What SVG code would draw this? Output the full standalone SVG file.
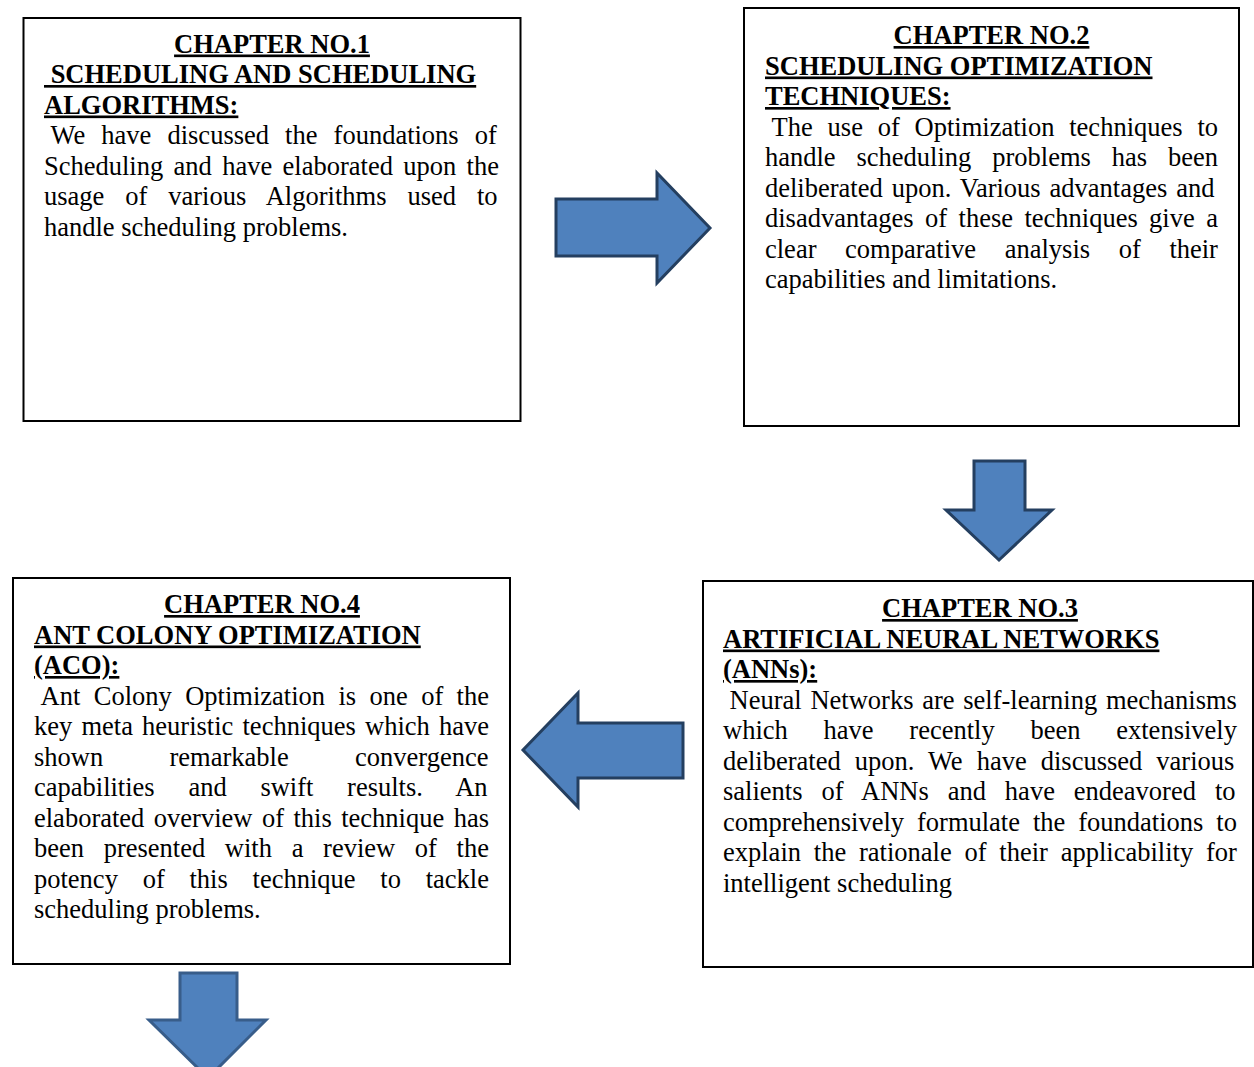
<svg xmlns="http://www.w3.org/2000/svg" width="1254" height="1067" viewBox="0 0 1254 1067">
<style>
.box{fill:#fff;stroke:#000;stroke-width:2}
text{font-family:"Liberation Serif","Times New Roman",serif;font-size:26.5px;fill:#000;white-space:pre}
.h{font-weight:bold;text-decoration:underline}
.c{text-anchor:middle}
.arr{fill:#4F81BD;stroke:#243F60;stroke-width:3;stroke-linejoin:miter}
.arr2{fill:#4F81BD;stroke:#385D8A;stroke-width:3}
</style>
<rect width="1254" height="1067" fill="#fff"/>
<g id="connectors">
<polygon class="arr" points="556,199 657,199 657,173 710,228 657,283 657,256 556,256"/>
<polygon class="arr" points="974,461 1025,461 1025,510 1052,510 999,560 946,510 974,510"/>
<polygon class="arr" points="683,723 578,723 578,693 523,750 578,807 578,778 683,778"/>
<polygon class="arr2" points="180,973 237,973 237,1020 266,1020 208,1078 149,1020 180,1020"/>
</g>
<g id="chapter1">
<rect class="box" x="23.5" y="18" width="497" height="403"/>
<text class="h c" x="272" y="52.5">CHAPTER NO.1</text>
<text class="h" x="44" y="83"> SCHEDULING AND SCHEDULING</text>
<text class="h" x="44" y="113.5">ALGORITHMS:</text>
<text x="50.6" y="144" style="word-spacing:9.46px">We have discussed the foundations of</text>
<text x="44" y="174.5" style="word-spacing:3.72px">Scheduling and have elaborated upon the</text>
<text x="44" y="205" style="word-spacing:14.3px">usage of various Algorithms used to</text>
<text x="44" y="235.5">handle scheduling problems.</text>
</g>
<g id="chapter2">
<rect class="box" x="744" y="8" width="495" height="418"/>
<text class="h c" x="991.5" y="44">CHAPTER NO.2</text>
<text class="h" x="765" y="74.5">SCHEDULING OPTIMIZATION</text>
<text class="h" x="765" y="105">TECHNIQUES:</text>
<text x="771.6" y="135.5" style="word-spacing:8.18px">The use of Optimization techniques to</text>
<text x="765" y="166" style="word-spacing:14.25px">handle scheduling problems has been</text>
<text x="765" y="196.5" style="word-spacing:2.3px">deliberated upon. Various advantages and</text>
<text x="765" y="227" style="word-spacing:4.78px">disadvantages of these techniques give a</text>
<text x="765" y="257.5" style="word-spacing:22px">clear comparative analysis of their</text>
<text x="765" y="288">capabilities and limitations.</text>
</g>
<g id="chapter3">
<rect class="box" x="703" y="581" width="550" height="386"/>
<text class="h c" x="980" y="617">CHAPTER NO.3</text>
<text class="h" x="723" y="647.5">ARTIFICIAL NEURAL NETWORKS</text>
<text class="h" x="723" y="678">(ANNs):</text>
<text x="729.6" y="708.5" style="word-spacing:2.1px">Neural Networks are self-learning mechanisms</text>
<text x="723" y="739" style="word-spacing:29.15px">which have recently been extensively</text>
<text x="723" y="769.5" style="word-spacing:7.42px">deliberated upon. We have discussed various</text>
<text x="723" y="800" style="word-spacing:12.32px">salients of ANNs and have endeavored to</text>
<text x="723" y="830.5" style="word-spacing:6.33px">comprehensively formulate the foundations to</text>
<text x="723" y="861" style="word-spacing:6.18px">explain the rationale of their applicability for</text>
<text x="723" y="891.5">intelligent scheduling</text>
</g>
<g id="chapter4">
<rect class="box" x="13" y="578" width="497" height="386"/>
<text class="h c" x="262" y="613">CHAPTER NO.4</text>
<text class="h" x="34" y="643.5">ANT COLONY OPTIMIZATION</text>
<text class="h" x="34" y="674">(ACO):</text>
<text x="40.6" y="704.5" style="word-spacing:6.77px">Ant Colony Optimization is one of the</text>
<text x="34" y="735" style="word-spacing:2.54px">key meta heuristic techniques which have</text>
<text x="34" y="765.5" style="word-spacing:59.7px">shown remarkable convergence</text>
<text x="34" y="796" style="word-spacing:27.1px">capabilities and swift results. An</text>
<text x="34" y="826.5" style="word-spacing:2.84px">elaborated overview of this technique has</text>
<text x="34" y="857" style="word-spacing:13.03px">been presented with a review of the</text>
<text x="34" y="887.5" style="word-spacing:18.14px">potency of this technique to tackle</text>
<text x="34" y="918">scheduling problems.</text>
</g>
</svg>
